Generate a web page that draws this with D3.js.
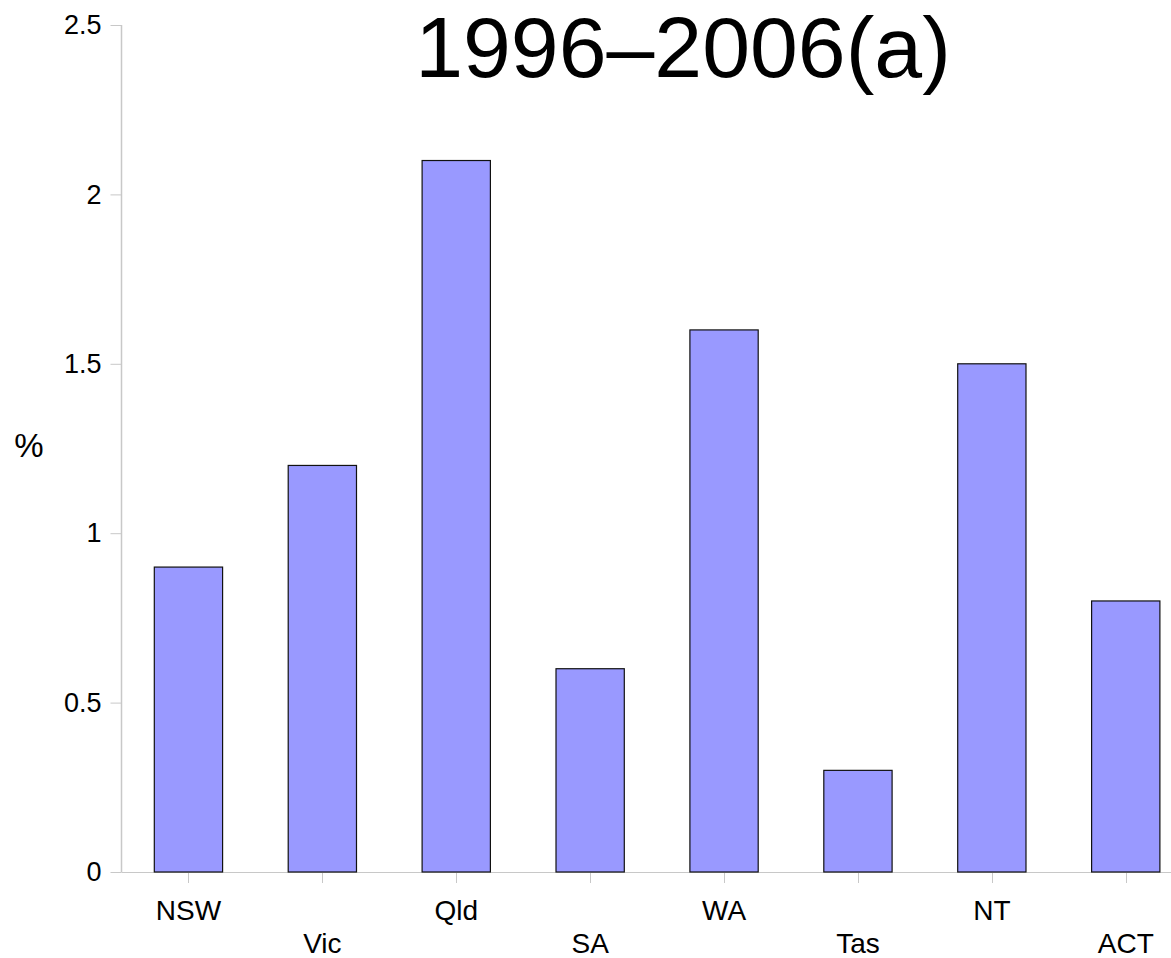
<!DOCTYPE html>
<html>
<head>
<meta charset="utf-8">
<script src="https://cdn.jsdelivr.net/npm/d3@7"></script>
<style>
  html, body { margin: 0; padding: 0; background: #fff; }
  svg { display: block; font-family: "Liberation Sans", Arial, sans-serif; }
</style>
</head>
<body>
<svg id="chart" width="1171" height="958"></svg>
<script>
const categories = ["NSW", "Vic", "Qld", "SA", "WA", "Tas", "NT", "ACT"];
const values = [0.9, 1.2, 2.1, 0.6, 1.6, 0.3, 1.5, 0.8];
const yTicks = [0, 0.5, 1, 1.5, 2, 2.5];
const yTickLabels = ["0", "0.5", "1", "1.5", "2", "2.5"];
const titleText = "1996\u20132006(a)";
const yLabel = "%";

(function () {
const svg = d3.select("#chart");
const plotLeft = 121.5, plotRight = 121.5 + 8 * 133.9, plotTop = 25, plotBottom = 872;

const x = d3.scaleBand().domain(categories).range([plotLeft, plotRight]).paddingInner(0.49).paddingOuter(0.245);
const xc = d3.scalePoint().domain(categories).range([plotLeft, plotRight]).padding(0.5);
const y = d3.scaleLinear().domain([0, 2.5]).range([plotBottom, plotTop]);

const axisColor = "#c8c8c8";

// y axis
const yAxis = svg.append("g").attr("transform", `translate(${plotLeft},0)`)
  .call(d3.axisLeft(y).tickValues(yTicks).tickFormat((d, i) => yTickLabels[i]).tickSize(11).tickPadding(9));
yAxis.select(".domain").attr("stroke", axisColor).attr("stroke-width", 1.5).attr("d", `M0,${plotTop}V${plotBottom}`);
yAxis.selectAll(".tick line").attr("stroke", axisColor).attr("stroke-width", 1);
yAxis.selectAll(".tick text").attr("font-size", 27).attr("fill", "#000")
  .attr("font-family", "'Liberation Sans', Arial, sans-serif");

// baseline
svg.append("line").attr("x1", plotLeft).attr("x2", 1171).attr("y1", y(0) + 0.5).attr("y2", y(0) + 0.5)
  .attr("stroke", axisColor).attr("stroke-width", 1);

// x ticks
svg.append("g").selectAll("line").data(categories).join("line")
  .attr("x1", d => Math.round(xc(d)) + 0.5).attr("x2", d => Math.round(xc(d)) + 0.5)
  .attr("y1", plotBottom).attr("y2", plotBottom + 11)
  .attr("stroke", axisColor).attr("stroke-width", 1);

// bars
svg.append("g").selectAll("rect").data(values).join("rect")
  .attr("x", (d, i) => x(categories[i]))
  .attr("width", x.bandwidth())
  .attr("y", d => y(d))
  .attr("height", d => y(0) - y(d))
  .attr("fill", "#9999ff")
  .attr("stroke", "#111")
  .attr("stroke-width", 1.2);

// x labels (staggered)
svg.append("g").selectAll("text").data(categories).join("text")
  .attr("x", d => xc(d))
  .attr("y", (d, i) => i % 2 === 0 ? 920 : 953)
  .attr("text-anchor", "middle")
  .attr("font-size", 28)
  .attr("fill", "#000")
  .text(d => d);

// y label
svg.append("text").attr("x", 29).attr("y", 457).attr("text-anchor", "middle")
  .attr("font-size", 33).attr("fill", "#000").text(yLabel);

// title
svg.append("text").attr("x", 683).attr("y", 77).attr("text-anchor", "middle")
  .attr("font-size", 86).attr("fill", "#000").text(titleText);
})();
</script>
</body>
</html>
